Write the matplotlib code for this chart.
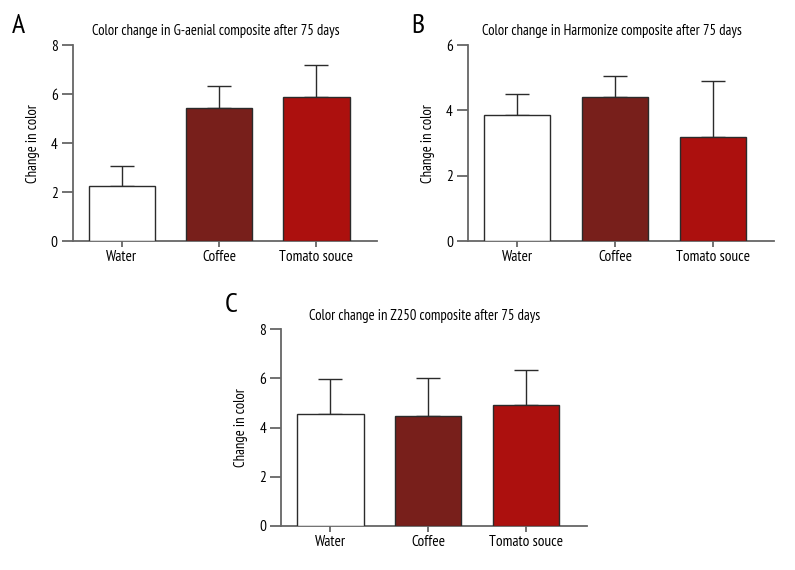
import matplotlib
matplotlib.use("Agg")
import matplotlib.pyplot as plt

plt.rcParams['font.family'] = ['PT Sans Narrow', 'DejaVu Sans']
plt.rcParams['font.stretch'] = 'condensed'

groups = ["Water", "Coffee", "Tomato souce"]
bar_colors = ["#ffffff", "#781f1b", "#ac100e"]

gaenial_mean = [2.26, 5.42, 5.89]
gaenial_sd = [0.79, 0.92, 1.29]
harmonize_mean = [3.87, 4.40, 3.19]
harmonize_sd = [0.64, 0.64, 1.71]
z250_mean = [4.54, 4.46, 4.90]
z250_sd = [1.44, 1.57, 1.44]

titles = ["Color change in G-aenial composite after 75 days",
          "Color change in Harmonize composite after 75 days",
          "Color change in Z250 composite after 75 days"]
letters = ["A", "B", "C"]
ylims = [8, 6, 8]

fig = plt.figure(figsize=(7.95, 5.7), dpi=100)
axes = [fig.add_axes([0.092, 0.577, 0.382, 0.344]),
        fig.add_axes([0.589, 0.577, 0.384, 0.344]),
        fig.add_axes([0.354, 0.078, 0.384, 0.344])]
letter_pos = [(0.015, 0.942), (0.517, 0.942), (0.283, 0.453)]

data = [(gaenial_mean, gaenial_sd), (harmonize_mean, harmonize_sd), (z250_mean, z250_sd)]
edge = "#2b2b2b"
axc = "#666666"
for i, ax in enumerate(axes):
    m, s = data[i]
    x = range(len(groups))
    ax.bar(x, m, width=0.68, color=bar_colors, edgecolor=edge, linewidth=1.0, zorder=3)
    ax.errorbar(x, m, yerr=[[0] * 3, s], fmt="none", ecolor=edge, elinewidth=1.0,
                capsize=8.6, capthick=1.0, zorder=2)
    ax.set_xlim(-0.5, 2.62)
    ax.set_ylim(0, ylims[i])
    ax.set_yticks(range(0, ylims[i] + 1, 2))
    ax.set_xticks(list(x))
    ax.set_xticklabels(groups)
    ax.spines['top'].set_visible(False)
    ax.spines['right'].set_visible(False)
    for sp in ['left', 'bottom']:
        ax.spines[sp].set_color(axc)
        ax.spines[sp].set_linewidth(1.3)
    ax.tick_params(colors=axc, labelcolor="black", labelsize=11, width=1.3)
    ax.tick_params(axis='y', length=8, pad=3)
    ax.tick_params(axis='x', length=4.5, pad=2)
    ax.set_ylabel("Change in color", fontsize=10.5, labelpad=8)
    ax.set_title(titles[i], fontsize=10.5, pad=7, x=0.47)
    fig.text(letter_pos[i][0], letter_pos[i][1], letters[i], fontsize=20)

fig.savefig("out.png", dpi=100)
